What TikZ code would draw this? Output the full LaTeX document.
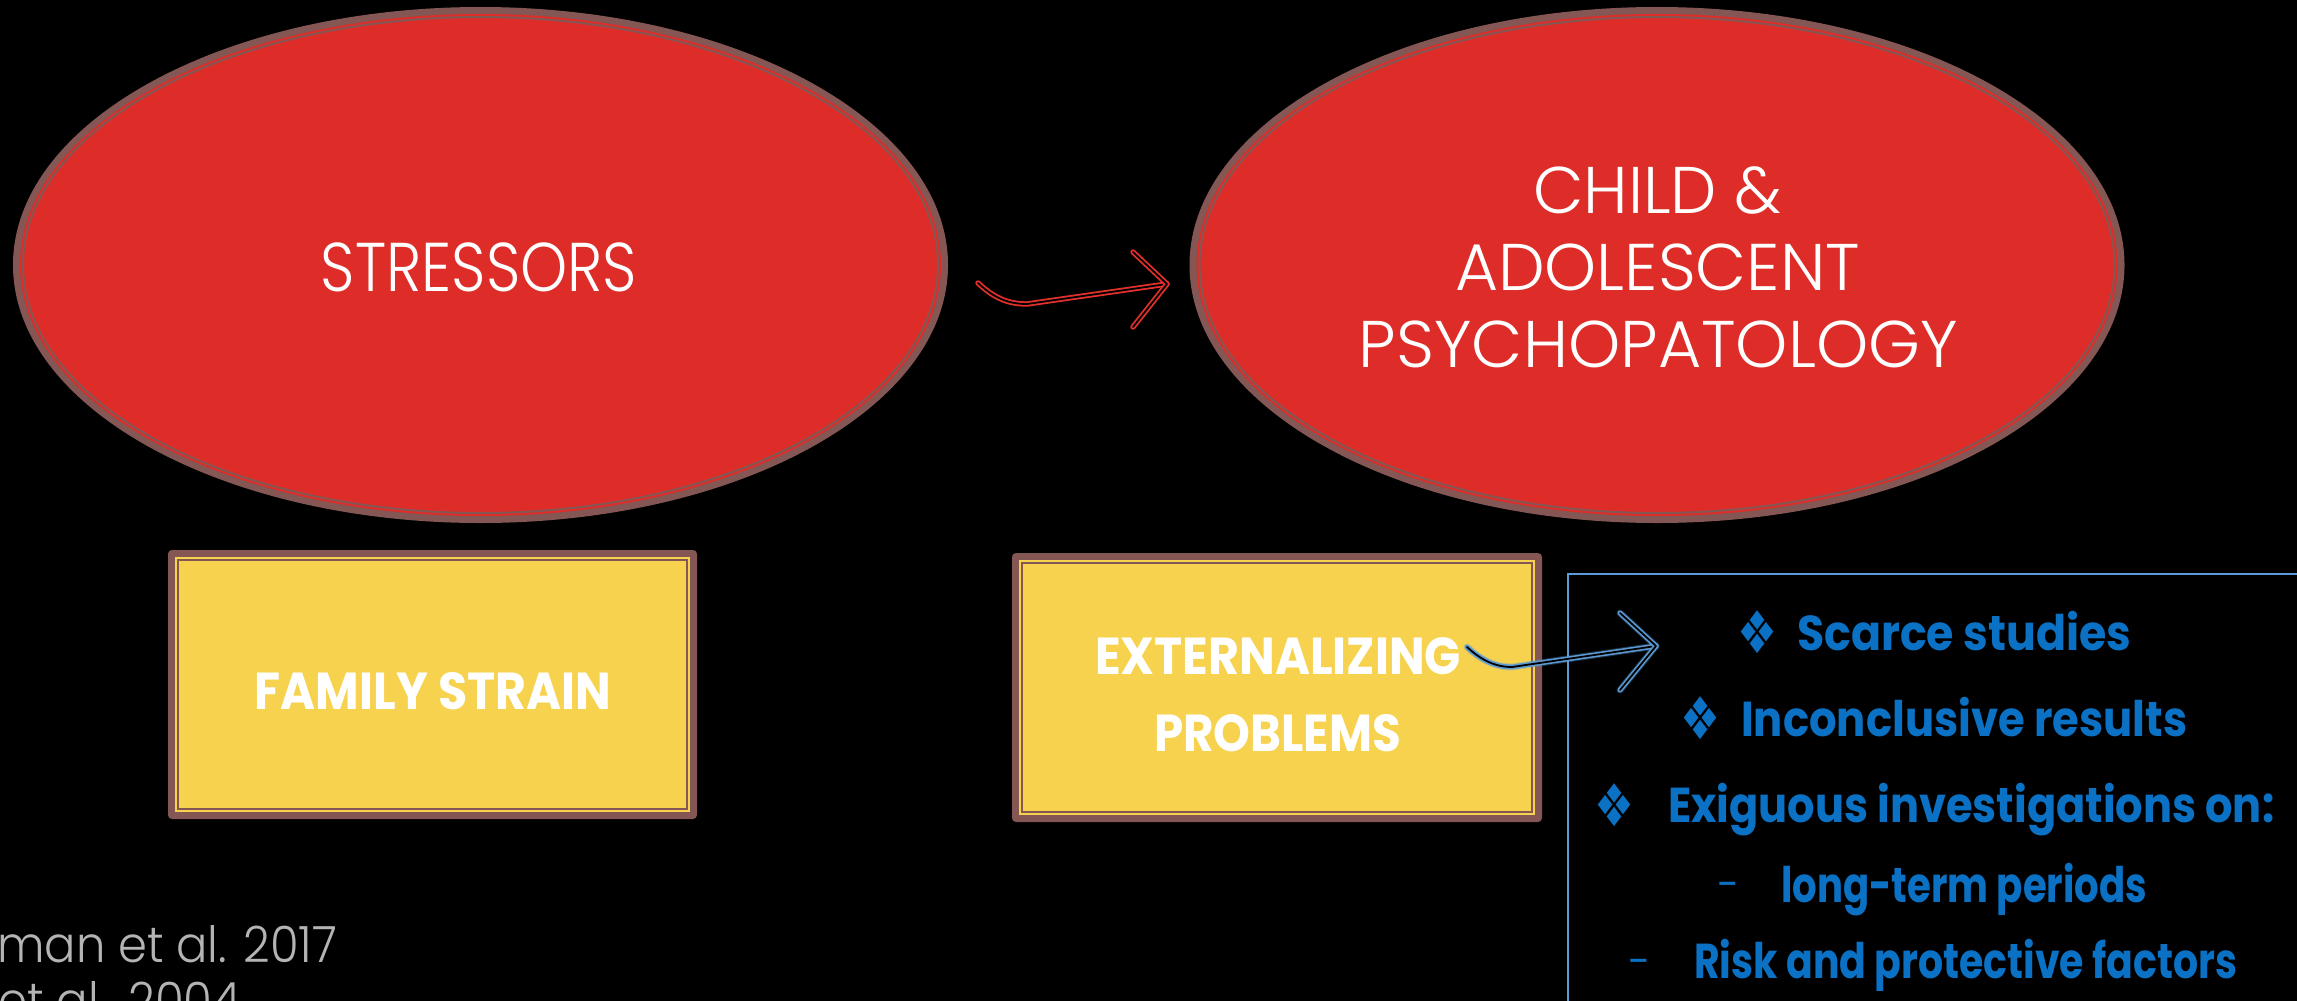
\documentclass[tikz,border=0pt]{standalone}
\usepackage{fontspec}
\usepackage{graphicx}
\setmainfont{Poppins}
\newfontfamily\symfont{DejaVu Sans}
\IfFontExistsTF{Poppins Light}
  {\newfontfamily\thinfont{Poppins Light}}
  {\newfontfamily\thinfont{Poppins}}

\definecolor{ovalred}{HTML}{DE2D28}
\definecolor{rimbrown}{HTML}{845654}
\definecolor{boxyellow}{HTML}{F7D24F}
\definecolor{listblue}{HTML}{0B71C4}
\definecolor{lineblue}{HTML}{5B9BD5}
\definecolor{citegray}{HTML}{B4B4B4}
\definecolor{arrowred}{HTML}{E3302B}

% set a text to an exact width, keeping its height
\newcommand\fitto[2]{\resizebox{#1}{\height}{#2}}

% red oval with a brown double rim
\newcommand\drawoval[1]{%
  \fill[rimbrown] (#1) ellipse [x radius=467.5pt, y radius=258pt];
  \fill[ovalred] (#1) ellipse [x radius=460.5pt, y radius=251pt];
  \draw[rimbrown, line width=2pt] (#1) ellipse [x radius=457.5pt, y radius=248pt];}

% yellow plate with a brown double frame: x1,y1,x2,y2
\newcommand\drawplate[4]{%
  \fill[rimbrown, rounded corners=4pt] (#1,#2) rectangle (#3,#4);
  \fill[boxyellow] ({#1+7},{#2+7}) rectangle ({#3-7},{#4-7});
  \draw[rimbrown, line width=2pt] ({#1+10},{#2+10}) rectangle ({#3-10},{#4-10});}

\begin{document}
\begin{tikzpicture}[x=1pt, y=-1pt,
  ovaltext/.style={text=white, inner sep=0pt, anchor=base},
  platetext/.style={text=white, inner sep=0pt, anchor=base,
    font=\bfseries\fontsize{52}{52}\selectfont},
  listtext/.style={text=listblue, inner sep=0pt, anchor=base west,
    font=\bfseries\fontsize{49}{49}\selectfont},
  listmark/.style={text=listblue, inner sep=0pt, anchor=center},
  citetext/.style={text=citegray, inner sep=0pt, anchor=base west,
    font=\thinfont\fontsize{50}{50}\selectfont},
  redarrow/.style={draw=arrowred, double=black, line width=1.8pt,
    double distance=1.8pt, line cap=round, line join=round},
  bluearrow/.style={draw=lineblue, double=black, line width=1.6pt,
    double distance=1.8pt, line cap=round, line join=round},
  blueglow/.style={draw=lineblue, opacity=0.3, line width=7pt,
    line cap=round, line join=round}]

\useasboundingbox (0,0) rectangle (2297,1001);
\fill[black] (0,0) rectangle (2297,1001);
\clip (0,0) rectangle (2297,1001);

% ovals
\coordinate (ovalL) at (480.5,265);
\coordinate (ovalR) at (1657,265);
\drawoval{ovalL}
\drawoval{ovalR}

\node[ovaltext, font=\thinfont\fontsize{69}{69}\selectfont] (stressors) at (479,291) {\fitto{316pt}{STRESSORS}};
\node[ovaltext, font=\thinfont\fontsize{66}{66}\selectfont] (child) at (1657.5,213) {\fitto{249pt}{CHILD \&}};
\node[ovaltext, font=\thinfont\fontsize{66}{66}\selectfont] (adol) at (1657.5,290) {\fitto{405pt}{ADOLESCENT}};
\node[ovaltext, font=\thinfont\fontsize{66}{66}\selectfont] (psycho) at (1658.5,367) {\fitto{599pt}{PSYCHOPATOLOGY}};

% plates
\drawplate{168}{550}{697}{819}
\drawplate{1012}{553}{1542}{822}
\node[platetext] (family) at (433,709) {\fitto{356pt}{FAMILY STRAIN}};
\node[platetext] (ext) at (1278,674) {\fitto{366pt}{EXTERNALIZING}};
\node[platetext] (prob) at (1277.5,751) {\fitto{247pt}{PROBLEMS}};

% list panel
\draw[lineblue, line width=2pt] (1568,574) rectangle (2330,1040);

\node[listmark] (m1) at (1757,632) {\resizebox*{40pt}{43pt}{\symfont ❖}};
\node[listtext] (l1) at (1797,650) {\fitto{334pt}{Scarce studies}};
\node[listmark] (m2) at (1700,718) {\resizebox*{40pt}{43pt}{\symfont ❖}};
\node[listtext] (l2) at (1741,736) {\fitto{446pt}{Inconclusive results}};
\node[listmark] (m3) at (1614,805) {\resizebox*{40pt}{43pt}{\symfont ❖}};
\node[listtext] (l3) at (1668,822) {\fitto{606pt}{Exiguous investigations on:}};
\node[listmark, font=\fontsize{40}{40}\selectfont] (d1) at (1728,890) {-};
\node[listtext] (l4) at (1781,902) {\fitto{366pt}{long-term periods}};
\node[listmark, font=\fontsize{40}{40}\selectfont] (d2) at (1639,967) {-};
\node[listtext] (l5) at (1694,978) {\fitto{543pt}{Risk and protective factors}};

% references
\node[citetext] (cite1) at (-3,962) {\fitto{340pt}{man et al. 2017}};
\node[citetext] (cite2) at (-2,1018) {\fitto{243pt}{et al., 2004}};

% arrow between the ovals
\coordinate (rs) at (978,283);
\coordinate (rd) at (1027,304);
\coordinate (rt) at (1167,284);
\coordinate (ru) at (1133,252);
\coordinate (rl) at (1133,327);
\draw[redarrow] (rs) .. controls (994,298) and (1008,304) .. (rd) -- (rt);
\draw[redarrow] (ru) -- (rt) -- (rl);

% arrow from the plate to the list
\coordinate (bs) at (1467,647);
\coordinate (bd) at (1512,667);
\coordinate (bt) at (1656,646);
\coordinate (bu) at (1620,613);
\coordinate (bl) at (1620,690);
\draw[blueglow] (bs) .. controls (1481,660) and (1495,667) .. (bd) -- (bt);
\draw[blueglow] (bu) -- (bt) -- (bl);
\draw[bluearrow] (bs) .. controls (1481,660) and (1495,667) .. (bd) -- (bt);
\draw[bluearrow] (bu) -- (bt) -- (bl);
\end{tikzpicture}
\end{document}
